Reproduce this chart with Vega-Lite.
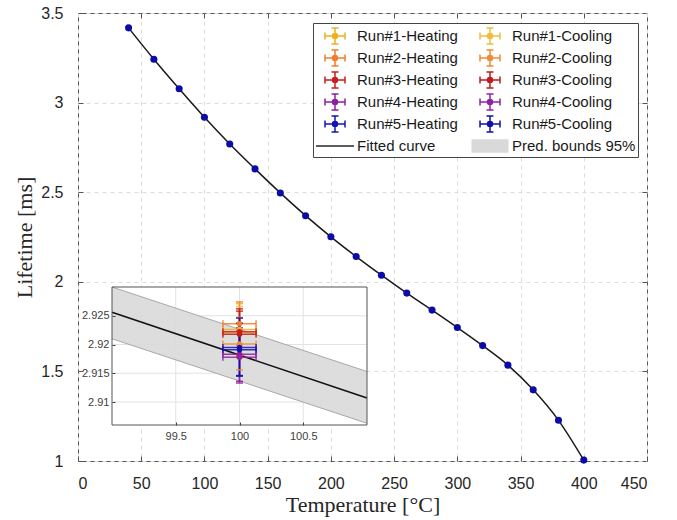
{
  "$schema": "https://vega.github.io/schema/vega-lite/v6.json",
  "autosize": {"type": "none"},
  "width": 569,
  "height": 448,
  "padding": {"left": 78, "top": 13, "right": 30, "bottom": 59},
  "background": "white",
  "config": {
    "view": {"stroke": "#555555", "strokeWidth": 1},
    "axis": {
      "labelFont": "Liberation Sans", "labelFontSize": 16, "labelColor": "#262626",
      "titleFont": "Liberation Serif", "titleFontSize": 22, "titleFontWeight": "normal", "titleColor": "#262626",
      "tickColor": "#555555", "domain": false
    }
  },
  "datasets": {
    "main": [
      {"T": 40, "L": 3.417}, {"T": 60, "L": 3.242}, {"T": 80, "L": 3.077}, {"T": 100, "L": 2.918},
      {"T": 120, "L": 2.769}, {"T": 140, "L": 2.63}, {"T": 160, "L": 2.496}, {"T": 180, "L": 2.369},
      {"T": 200, "L": 2.251}, {"T": 220, "L": 2.141}, {"T": 240, "L": 2.037}, {"T": 260, "L": 1.937},
      {"T": 280, "L": 1.842}, {"T": 300, "L": 1.745}, {"T": 320, "L": 1.644}, {"T": 340, "L": 1.535},
      {"T": 360, "L": 1.397}, {"T": 380, "L": 1.227}, {"T": 400, "L": 1.005}
    ],
    "inset_box": [{"x1": 99, "x2": 101, "y1": 2.906, "y2": 2.93}],
    "inset_vgrid": [
      {"gx": 99.5, "y1": 2.906, "y2": 2.93}, {"gx": 100, "y1": 2.906, "y2": 2.93}, {"gx": 100.5, "y1": 2.906, "y2": 2.93}
    ],
    "inset_hgrid": [
      {"gy": 2.91, "x1": 99, "x2": 101}, {"gy": 2.915, "x1": 99, "x2": 101},
      {"gy": 2.92, "x1": 99, "x2": 101}, {"gy": 2.925, "x1": 99, "x2": 101}
    ],
    "inset_fit": [
      {"x": 99, "fit": 2.9256, "lo": 2.921, "hi": 2.93},
      {"x": 101, "fit": 2.9107, "lo": 2.9063, "hi": 2.9153}
    ],
    "inset_pts": [
      {"series": "Run#1-Heating", "y": 2.9226, "ylo": 2.9181, "yhi": 2.9271, "xlo": 99.87, "xhi": 100.13},
      {"series": "Run#1-Cooling", "y": 2.9221, "ylo": 2.9176, "yhi": 2.9266, "xlo": 99.87, "xhi": 100.13},
      {"series": "Run#2-Heating", "y": 2.9236, "ylo": 2.9199, "yhi": 2.9274, "xlo": 99.87, "xhi": 100.13},
      {"series": "Run#2-Cooling", "y": 2.9201, "ylo": 2.9156, "yhi": 2.9247, "xlo": 99.87, "xhi": 100.13},
      {"series": "Run#3-Heating", "y": 2.9222, "ylo": 2.9182, "yhi": 2.9262, "xlo": 99.87, "xhi": 100.13},
      {"series": "Run#3-Cooling", "y": 2.9218, "ylo": 2.9178, "yhi": 2.9258, "xlo": 99.87, "xhi": 100.13},
      {"series": "Run#4-Heating", "y": 2.9183, "ylo": 2.9136, "yhi": 2.9229, "xlo": 99.87, "xhi": 100.13},
      {"series": "Run#4-Cooling", "y": 2.9178, "ylo": 2.9133, "yhi": 2.9223, "xlo": 99.87, "xhi": 100.13},
      {"series": "Run#5-Heating", "y": 2.9195, "ylo": 2.9145, "yhi": 2.9246, "xlo": 99.87, "xhi": 100.13},
      {"series": "Run#5-Cooling", "y": 2.9191, "ylo": 2.9146, "yhi": 2.9237, "xlo": 99.87, "xhi": 100.13}
    ]
  },
  "layer": [
    {
      "layer": [
        {
          "data": {"name": "main"},
          "mark": {"type": "line", "color": "#1a1a1a", "strokeWidth": 1.5, "interpolate": "monotone"},
          "encoding": {
            "x": {"field": "T", "type": "quantitative",
              "scale": {"domain": [0, 450], "nice": false, "zero": false},
              "axis": {"orient": "bottom", "values": [0, 50, 100, 150, 200, 250, 300, 350, 400, 450], "title": "Temperature [°C]",
                "grid": true, "gridDash": [4, 4], "gridColor": "#dddddd", "tickSize": -5, "labelPadding": 19, "titlePadding": 3}},
            "y": {"field": "L", "type": "quantitative",
              "scale": {"domain": [1, 3.5], "nice": false, "zero": false},
              "axis": {"orient": "left", "values": [1, 1.5, 2, 2.5, 3, 3.5], "title": "Lifetime [ms]", "format": "~g",
                "grid": true, "gridDash": [4, 4], "gridColor": "#dddddd", "tickSize": -5, "labelPadding": 20, "titlePadding": 4}}
          }
        },
        {
          "data": {"name": "main"},
          "mark": {"type": "point", "filled": true, "shape": "circle", "size": 50, "color": "#0b0ba8", "opacity": 1},
          "encoding": {
            "x": {"field": "T", "type": "quantitative",
              "axis": {"orient": "top", "values": [50, 100, 150, 200, 250, 300, 350, 400], "labels": false, "grid": false, "tickSize": -5, "title": null}},
            "y": {"field": "L", "type": "quantitative",
              "axis": {"orient": "right", "values": [1.5, 2, 2.5, 3], "labels": false, "grid": false, "tickSize": -5, "title": null}}
          }
        }
      ],
      "resolve": {"axis": {"x": "independent", "y": "independent"}}
    },
    {
      "layer": [
        {
          "data": {"name": "inset_box"},
          "mark": {"type": "rect", "fill": "white", "stroke": null},
          "encoding": {
            "x": {"field": "x1", "type": "quantitative",
              "scale": {"domain": [99, 101], "range": [34, 289], "nice": false, "zero": false},
              "axis": {"orient": "bottom", "offset": -36, "values": [99.5, 100, 100.5], "format": ".4~r", "grid": false,
                "labelFontSize": 11, "labelColor": "#404040", "tickSize": -3, "tickColor": "#404040", "labelPadding": 8, "title": null, "zindex": 1}},
            "x2": {"field": "x2"},
            "y": {"field": "y1", "type": "quantitative",
              "scale": {"domain": [2.906, 2.93], "range": [412, 274], "nice": false, "zero": false},
              "axis": {"orient": "left", "offset": -34, "values": [2.91, 2.915, 2.92, 2.925], "format": ".4~r", "grid": false,
                "labelFontSize": 11, "labelColor": "#404040", "tickSize": -3, "tickColor": "#404040", "labelPadding": 6, "title": null, "zindex": 1}},
            "y2": {"field": "y2"}
          }
        },
        {
          "data": {"name": "inset_vgrid"},
          "mark": {"type": "rule", "color": "#e3e3e3", "strokeWidth": 1},
          "encoding": {
            "x": {"field": "gx", "type": "quantitative"},
            "y": {"field": "y1", "type": "quantitative"},
            "y2": {"field": "y2"}
          }
        },
        {
          "data": {"name": "inset_hgrid"},
          "mark": {"type": "rule", "color": "#e3e3e3", "strokeWidth": 1},
          "encoding": {
            "y": {"field": "gy", "type": "quantitative"},
            "x": {"field": "x1", "type": "quantitative"},
            "x2": {"field": "x2"}
          }
        },
        {
          "data": {"name": "inset_fit"},
          "mark": {"type": "area", "color": "#d9d9d9", "opacity": 0.9},
          "encoding": {
            "x": {"field": "x", "type": "quantitative"},
            "y": {"field": "lo", "type": "quantitative"},
            "y2": {"field": "hi"}
          }
        },
        {
          "data": {"name": "inset_fit"},
          "mark": {"type": "line", "color": "#a8a8a8", "strokeWidth": 1},
          "encoding": {
            "x": {"field": "x", "type": "quantitative"},
            "y": {"field": "lo", "type": "quantitative"}
          }
        },
        {
          "data": {"name": "inset_fit"},
          "mark": {"type": "line", "color": "#a8a8a8", "strokeWidth": 1},
          "encoding": {
            "x": {"field": "x", "type": "quantitative"},
            "y": {"field": "hi", "type": "quantitative"}
          }
        },
        {
          "data": {"name": "inset_fit"},
          "mark": {"type": "line", "color": "#111111", "strokeWidth": 1.6},
          "encoding": {
            "x": {"field": "x", "type": "quantitative"},
            "y": {"field": "fit", "type": "quantitative"}
          }
        },
        {
          "data": {"name": "inset_pts"},
          "mark": {"type": "rule", "strokeWidth": 1.5, "opacity": 0.85},
          "encoding": {
            "x": {"datum": 100, "type": "quantitative"},
            "y": {"field": "ylo", "type": "quantitative"},
            "y2": {"field": "yhi"},
            "stroke": {"field": "series", "type": "nominal", "legend": null,
              "scale": {
                "domain": ["Run#1-Heating", "Run#1-Cooling", "Run#2-Heating", "Run#2-Cooling", "Run#3-Heating", "Run#3-Cooling", "Run#4-Heating", "Run#4-Cooling", "Run#5-Heating", "Run#5-Cooling"],
                "range": ["#EDB120", "#F0BC3C", "#F07D2A", "#F28A36", "#C81E1E", "#C41A1A", "#8C1FA0", "#8E24A2", "#1414B4", "#1010AA"]
              }}
          }
        },
        {
          "data": {"name": "inset_pts"},
          "mark": {"type": "rule", "strokeWidth": 1.5, "opacity": 0.85},
          "encoding": {
            "x": {"field": "xlo", "type": "quantitative"},
            "x2": {"field": "xhi"},
            "y": {"field": "y", "type": "quantitative"},
            "stroke": {"field": "series", "type": "nominal", "legend": null}
          }
        },
        {
          "data": {"name": "inset_pts"},
          "mark": {"type": "point", "shape": "M-1,0L1,0", "filled": false, "size": 49, "strokeWidth": 1.5, "opacity": 0.85},
          "encoding": {
            "x": {"datum": 100, "type": "quantitative"},
            "y": {"field": "ylo", "type": "quantitative"},
            "stroke": {"field": "series", "type": "nominal", "legend": null}
          }
        },
        {
          "data": {"name": "inset_pts"},
          "mark": {"type": "point", "shape": "M-1,0L1,0", "filled": false, "size": 49, "strokeWidth": 1.5, "opacity": 0.85},
          "encoding": {
            "x": {"datum": 100, "type": "quantitative"},
            "y": {"field": "yhi", "type": "quantitative"},
            "stroke": {"field": "series", "type": "nominal", "legend": null}
          }
        },
        {
          "data": {"name": "inset_pts"},
          "mark": {"type": "point", "shape": "M0,-1L0,1", "filled": false, "size": 49, "strokeWidth": 1.5, "opacity": 0.85},
          "encoding": {
            "x": {"field": "xlo", "type": "quantitative"},
            "y": {"field": "y", "type": "quantitative"},
            "stroke": {"field": "series", "type": "nominal", "legend": null}
          }
        },
        {
          "data": {"name": "inset_pts"},
          "mark": {"type": "point", "shape": "M0,-1L0,1", "filled": false, "size": 49, "strokeWidth": 1.5, "opacity": 0.85},
          "encoding": {
            "x": {"field": "xhi", "type": "quantitative"},
            "y": {"field": "y", "type": "quantitative"},
            "stroke": {"field": "series", "type": "nominal", "legend": null}
          }
        },
        {
          "data": {"name": "inset_pts"},
          "mark": {"type": "point", "filled": true, "shape": "circle", "size": 30, "opacity": 1},
          "encoding": {
            "x": {"datum": 100, "type": "quantitative"},
            "y": {"field": "y", "type": "quantitative"},
            "fill": {"field": "series", "type": "nominal", "legend": null,
              "scale": {
                "domain": ["Run#1-Heating", "Run#1-Cooling", "Run#2-Heating", "Run#2-Cooling", "Run#3-Heating", "Run#3-Cooling", "Run#4-Heating", "Run#4-Cooling", "Run#5-Heating", "Run#5-Cooling"],
                "range": ["#EDB120", "#F0BC3C", "#F07D2A", "#F28A36", "#C81E1E", "#C41A1A", "#8C1FA0", "#8E24A2", "#1414B4", "#1010AA"]
              }}
          }
        },
        {
          "data": {"name": "inset_pts"},
          "mark": {"type": "point", "filled": false, "size": 30, "opacity": 0, "strokeWidth": 1.5},
          "encoding": {
            "x": {"datum": 100, "type": "quantitative"},
            "y": {"field": "y", "type": "quantitative"},
            "shape": {
              "field": "series", "type": "nominal",
              "scale": {
                "domain": ["Run#1-Heating", "Run#1-Cooling", "Run#2-Heating", "Run#2-Cooling", "Run#3-Heating", "Run#3-Cooling", "Run#4-Heating", "Run#4-Cooling", "Run#5-Heating", "Run#5-Cooling", "Fitted curve", "Pred. bounds 95%"],
                "range": [
                  "M-1,0L1,0M0,-0.8L0,0.8M-1,-0.35L-1,0.35M1,-0.35L1,0.35M-0.35,-0.8L0.35,-0.8M-0.35,0.8L0.35,0.8M0.15,0A0.15,0.15,0,1,1,-0.15,0A0.15,0.15,0,1,1,0.15,0ZM0.25,0A0.25,0.25,0,1,1,-0.25,0A0.25,0.25,0,1,1,0.25,0Z",
                  "M-1,0L1,0M0,-0.8L0,0.8M-1,-0.35L-1,0.35M1,-0.35L1,0.35M-0.35,-0.8L0.35,-0.8M-0.35,0.8L0.35,0.8M0.15,0A0.15,0.15,0,1,1,-0.15,0A0.15,0.15,0,1,1,0.15,0ZM0.25,0A0.25,0.25,0,1,1,-0.25,0A0.25,0.25,0,1,1,0.25,0Z",
                  "M-1,0L1,0M0,-0.8L0,0.8M-1,-0.35L-1,0.35M1,-0.35L1,0.35M-0.35,-0.8L0.35,-0.8M-0.35,0.8L0.35,0.8M0.15,0A0.15,0.15,0,1,1,-0.15,0A0.15,0.15,0,1,1,0.15,0ZM0.25,0A0.25,0.25,0,1,1,-0.25,0A0.25,0.25,0,1,1,0.25,0Z",
                  "M-1,0L1,0M0,-0.8L0,0.8M-1,-0.35L-1,0.35M1,-0.35L1,0.35M-0.35,-0.8L0.35,-0.8M-0.35,0.8L0.35,0.8M0.15,0A0.15,0.15,0,1,1,-0.15,0A0.15,0.15,0,1,1,0.15,0ZM0.25,0A0.25,0.25,0,1,1,-0.25,0A0.25,0.25,0,1,1,0.25,0Z",
                  "M-1,0L1,0M0,-0.8L0,0.8M-1,-0.35L-1,0.35M1,-0.35L1,0.35M-0.35,-0.8L0.35,-0.8M-0.35,0.8L0.35,0.8M0.15,0A0.15,0.15,0,1,1,-0.15,0A0.15,0.15,0,1,1,0.15,0ZM0.25,0A0.25,0.25,0,1,1,-0.25,0A0.25,0.25,0,1,1,0.25,0Z",
                  "M-1,0L1,0M0,-0.8L0,0.8M-1,-0.35L-1,0.35M1,-0.35L1,0.35M-0.35,-0.8L0.35,-0.8M-0.35,0.8L0.35,0.8M0.15,0A0.15,0.15,0,1,1,-0.15,0A0.15,0.15,0,1,1,0.15,0ZM0.25,0A0.25,0.25,0,1,1,-0.25,0A0.25,0.25,0,1,1,0.25,0Z",
                  "M-1,0L1,0M0,-0.8L0,0.8M-1,-0.35L-1,0.35M1,-0.35L1,0.35M-0.35,-0.8L0.35,-0.8M-0.35,0.8L0.35,0.8M0.15,0A0.15,0.15,0,1,1,-0.15,0A0.15,0.15,0,1,1,0.15,0ZM0.25,0A0.25,0.25,0,1,1,-0.25,0A0.25,0.25,0,1,1,0.25,0Z",
                  "M-1,0L1,0M0,-0.8L0,0.8M-1,-0.35L-1,0.35M1,-0.35L1,0.35M-0.35,-0.8L0.35,-0.8M-0.35,0.8L0.35,0.8M0.15,0A0.15,0.15,0,1,1,-0.15,0A0.15,0.15,0,1,1,0.15,0ZM0.25,0A0.25,0.25,0,1,1,-0.25,0A0.25,0.25,0,1,1,0.25,0Z",
                  "M-1,0L1,0M0,-0.8L0,0.8M-1,-0.35L-1,0.35M1,-0.35L1,0.35M-0.35,-0.8L0.35,-0.8M-0.35,0.8L0.35,0.8M0.15,0A0.15,0.15,0,1,1,-0.15,0A0.15,0.15,0,1,1,0.15,0ZM0.25,0A0.25,0.25,0,1,1,-0.25,0A0.25,0.25,0,1,1,0.25,0Z",
                  "M-1,0L1,0M0,-0.8L0,0.8M-1,-0.35L-1,0.35M1,-0.35L1,0.35M-0.35,-0.8L0.35,-0.8M-0.35,0.8L0.35,0.8M0.15,0A0.15,0.15,0,1,1,-0.15,0A0.15,0.15,0,1,1,0.15,0ZM0.25,0A0.25,0.25,0,1,1,-0.25,0A0.25,0.25,0,1,1,0.25,0Z",
                  "M-1.9,0L1.9,0",
                  "M-1.85,-0.6L1.85,-0.6M-1.85,-0.5L1.85,-0.5M-1.85,-0.4L1.85,-0.4M-1.85,-0.3L1.85,-0.3M-1.85,-0.2L1.85,-0.2M-1.85,-0.1L1.85,-0.1M-1.85,0L1.85,0M-1.85,0.1L1.85,0.1M-1.85,0.2L1.85,0.2M-1.85,0.3L1.85,0.3M-1.85,0.4L1.85,0.4M-1.85,0.5L1.85,0.5M-1.85,0.6L1.85,0.6"
                ]
              }
            },
            "color": {
              "field": "series", "type": "nominal",
              "scale": {
                "domain": ["Run#1-Heating", "Run#1-Cooling", "Run#2-Heating", "Run#2-Cooling", "Run#3-Heating", "Run#3-Cooling", "Run#4-Heating", "Run#4-Cooling", "Run#5-Heating", "Run#5-Cooling", "Fitted curve", "Pred. bounds 95%"],
                "range": ["#EDB120", "#F0BC3C", "#F07D2A", "#F28A36", "#C81E1E", "#C41A1A", "#8C1FA0", "#8E24A2", "#1414B4", "#1010AA", "#262626", "#D9D9D9"]
              },
              "legend": {
                "title": null, "orient": "none", "legendX": 235, "legendY": 10, "columns": 2,
                "direction": "horizontal",
                "padding": 2, "symbolOffset": 9, "labelOffset": 11, "columnPadding": 10, "rowPadding": -3.2,
                "symbolSize": 400, "symbolStrokeWidth": 1.5, "symbolOpacity": 1,
                "labelFont": "Liberation Sans", "labelFontSize": 15, "labelColor": "#1a1a1a", "labelLimit": 300,
                "strokeColor": "#444444", "fillColor": "white"
              }
            }
          }
        },
        {
          "data": {"name": "inset_box"},
          "mark": {"type": "rect", "fill": null, "fillOpacity": 0, "stroke": "#555555", "strokeWidth": 1},
          "encoding": {
            "x": {"field": "x1", "type": "quantitative"},
            "x2": {"field": "x2"},
            "y": {"field": "y1", "type": "quantitative"},
            "y2": {"field": "y2"}
          }
        }
      ]
    }
  ],
  "resolve": {"scale": {"x": "independent", "y": "independent"}, "axis": {"x": "independent", "y": "independent"}}
}
